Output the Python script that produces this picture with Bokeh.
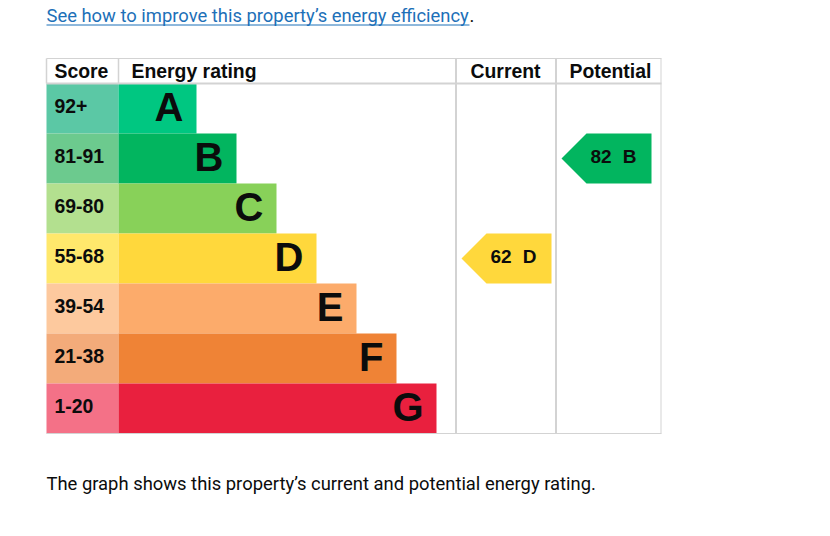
from bokeh.plotting import figure
from bokeh.models import Range1d
from bokeh.core.properties import value
from bokeh.embed import file_html
from bokeh.resources import INLINE

# ---------------- data ----------------
ratings = ["A", "B", "C", "D", "E", "F", "G"]
score_ranges = ["92+", "81-91", "69-80", "55-68", "39-54", "21-38", "1-20"]
bar_colors = ["#00c781", "#02b55f", "#88d159", "#ffd83c", "#fcab6b", "#ef8336", "#e9203e"]
score_colors = ["#5bc8a5", "#6cca8e", "#b3e08f", "#ffe86c", "#fdc99e", "#f3ab7a", "#f47187"]
headers = ["Score", "Energy rating", "Current", "Potential"]
current_score, current_band = 62, "D"
potential_score, potential_band = 82, "B"
link_text = "See how to improve this property\u2019s energy efficiency"
body_text = "The graph shows this property\u2019s current and potential energy rating."

# ---------------- layout (pixel page coordinates) ----------------
W, H = 814, 520
LEFT = 46
HEAD_TOP, HEAD_H, ROW_H = 58, 25, 50
COL_EDGES = [46, 118, 456, 556, 661]
BAR_BASE, BAR_STEP = 78, 40
GRID = "#d3d3d3"
ARIAL = value("Liberation Sans")
BODY = value("Roboto")
BODY_SIZE = "18.4px"

p = figure(width=W, height=H, output_backend="svg", toolbar_location=None,
           x_range=Range1d(0, W), y_range=Range1d(H, 0),
           min_border=0, outline_line_color=None)
p.xaxis.visible = False
p.yaxis.visible = False
p.grid.visible = False
p.background_fill_color = "white"
p.border_fill_color = "white"

n = len(ratings)
row_top = [HEAD_TOP + HEAD_H + i * ROW_H for i in range(n)]
row_bot = [t + ROW_H for t in row_top]
row_mid = [t + ROW_H / 2 for t in row_top]
bar_right = [COL_EDGES[1] + BAR_BASE + BAR_STEP * i for i in range(n)]
table_bottom = row_bot[-1]

# score cells
p.quad(left=[COL_EDGES[0]] * n, right=[COL_EDGES[1]] * n, top=row_top, bottom=row_bot,
       fill_color=score_colors, line_color=None)
# bars
p.quad(left=[COL_EDGES[1]] * n, right=bar_right, top=row_top, bottom=row_bot,
       fill_color=bar_colors, line_color=None)

# grid lines
p.segment(x0=[COL_EDGES[0]], y0=[HEAD_TOP], x1=[COL_EDGES[-1]], y1=[HEAD_TOP], line_color=GRID, line_width=1)
p.segment(x0=[COL_EDGES[0]], y0=[HEAD_TOP + HEAD_H], x1=[COL_EDGES[-1]], y1=[HEAD_TOP + HEAD_H], line_color=GRID, line_width=2)
p.segment(x0=[COL_EDGES[0]], y0=[table_bottom], x1=[COL_EDGES[-1]], y1=[table_bottom], line_color=GRID, line_width=1)
p.segment(x0=[COL_EDGES[0], COL_EDGES[1]], y0=[HEAD_TOP] * 2, x1=[COL_EDGES[0], COL_EDGES[1]],
          y1=[HEAD_TOP + HEAD_H] * 2, line_color=GRID, line_width=1.5)
p.segment(x0=[COL_EDGES[2] - 0.5, COL_EDGES[3] - 0.5], y0=[HEAD_TOP] * 2, x1=[COL_EDGES[2] - 0.5, COL_EDGES[3] - 0.5],
          y1=[table_bottom] * 2, line_color=GRID, line_width=2)
p.segment(x0=[COL_EDGES[4] - 0.5], y0=[HEAD_TOP], x1=[COL_EDGES[4] - 0.5], y1=[table_bottom],
          line_color=GRID, line_width=1)

# header texts
head_x = [COL_EDGES[0] + 8, COL_EDGES[1] + 13, COL_EDGES[2] + 14, COL_EDGES[3] + 13]
p.text(x=head_x, y=[HEAD_TOP + HEAD_H / 2] * 4, text=headers, text_font=ARIAL, text_font_style="bold",
       text_font_size="19.4px", text_baseline="middle", text_align="left", text_color="#0b0c0c")

# score texts
p.text(x=[COL_EDGES[0] + 8] * n, y=[m - 3 for m in row_mid], text=score_ranges, text_font=ARIAL,
       text_font_style="bold", text_font_size="19.4px", text_baseline="middle", text_align="left",
       text_color="#0b0c0c")

# rating letters
p.text(x=[r - 13 for r in bar_right], y=[m - 2 for m in row_mid], text=ratings, text_font=ARIAL,
       text_font_style="bold", text_font_size="40px", text_baseline="middle", text_align="right",
       text_color="#0b0c0c")

# arrows
def arrow(col_left, band):
    i = ratings.index(band)
    t, b, m = row_top[i], row_bot[i], row_mid[i]
    tip = col_left + 5
    right = tip + 90
    xs = [tip, tip + ROW_H / 2, right, right, tip + ROW_H / 2]
    ys = [m, t, t, b, b]
    return xs, ys, bar_colors[i], tip, right, m

arrows = [arrow(COL_EDGES[2], current_band), arrow(COL_EDGES[3], potential_band)]
p.patches(xs=[a[0] for a in arrows], ys=[a[1] for a in arrows], fill_color=[a[2] for a in arrows],
          line_color=None)
p.text(x=[a[3] + 29 for a in arrows], y=[a[5] - 2 for a in arrows],
       text=[str(current_score), str(potential_score)], text_font=ARIAL, text_font_style="bold",
       text_font_size="19px", text_baseline="middle", text_align="left", text_color="#0b0c0c")
p.text(x=[a[4] - 15 for a in arrows], y=[a[5] - 2 for a in arrows],
       text=[current_band, potential_band], text_font=ARIAL, text_font_style="bold",
       text_font_size="19px", text_baseline="middle", text_align="right", text_color="#0b0c0c")

# link line at top
p.text(x=[LEFT], y=[14.5], text=[link_text], text_font=BODY, text_font_size=BODY_SIZE,
       text_baseline="middle", text_align="left", text_color="#1d70b8")
LINK_END = 469
p.segment(x0=[LEFT], y0=[24.5], x1=[LINK_END], y1=[24.5], line_color="#1d70b8", line_width=1)
p.text(x=[LINK_END], y=[14.5], text=["."], text_font=BODY, text_font_size=BODY_SIZE,
       text_baseline="middle", text_align="left", text_color="#0b0c0c")

# body paragraph
p.text(x=[LEFT], y=[482.5], text=[body_text], text_font=BODY, text_font_size=BODY_SIZE,
       text_baseline="middle", text_align="left", text_color="#0b0c0c")

open("out.html", "w").write(file_html(p, INLINE))
